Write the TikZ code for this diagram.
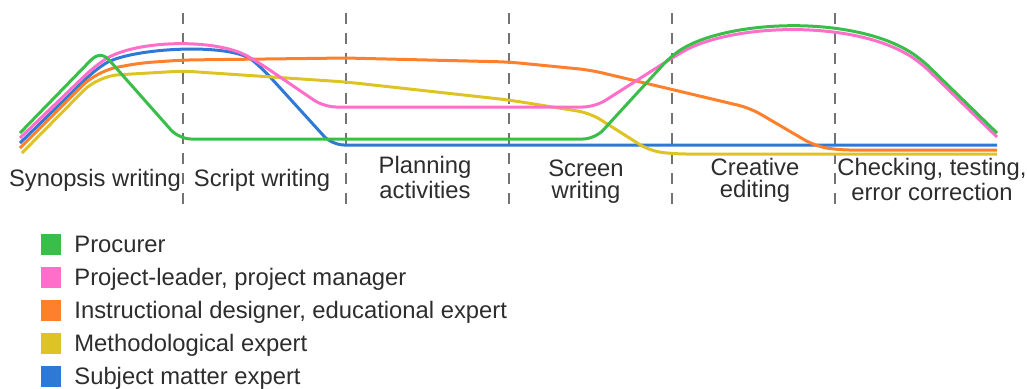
\documentclass[tikz,border=0pt]{standalone}
\usepackage{fontspec}
\setmainfont{Liberation Sans}
\definecolor{cgreen}{RGB}{58,190,74}
\definecolor{cpink}{RGB}{255,110,200}
\definecolor{corange}{RGB}{255,128,44}
\definecolor{cyellow}{RGB}{221,196,36}
\definecolor{cblue}{RGB}{46,120,214}
\definecolor{textgray}{RGB}{45,45,45}
\tikzset{
  curve/.style={line width=1.5pt, line join=round, rounded corners=6pt},
  sepline/.style={draw=black!55, line width=0.6pt, dash pattern=on 5.5pt off 4.5pt},
  lab/.style={font=\fontsize{11.9}{10.8}\selectfont, text=textgray, align=center, inner sep=0pt},
  key/.style={minimum width=10pt, minimum height=10.5pt, inner sep=0pt},
}
\begin{document}
\begin{tikzpicture}[x=0.5pt,y=-0.5pt]
\useasboundingbox (0,0) rectangle (1027,388);
% phase separators
\foreach \x/\n in {183/1,346/2,509/3,672/4,835/5}{
  \coordinate (t\n) at (\x,13);
  \coordinate (b\n) at (\x,208);
  \draw[sepline] (t\n) -- (b\n);
}
% Subject matter expert
\draw[curve, cblue] (20,143) -- (95,70) .. controls (130,48) and (230,42) .. (262,68) -- (332,145) -- (997,145);
% Methodological expert
\draw[curve, cyellow] (22,153) [rounded corners=10pt] -- (98,76) [rounded corners=6pt] -- (183,71) -- (346,82) -- (509,100) -- (590,113) -- (650,151) -- (675,154) -- (997,154);
% Instructional designer
\draw[curve, corange] (20,148) [rounded corners=10pt] -- (97,71) [rounded corners=6pt] -- (140,63) -- (183,60) -- (346,58) -- (509,62) -- (590,70) -- (750,108) -- (815,146) -- (838,150) -- (997,150);
% Project-leader
\draw[curve, cpink] (20,138) -- (95,66) .. controls (135,40) and (215,38) .. (258,62) -- (324,107) -- (595,107) -- (672,58) .. controls (730,24) and (850,19) .. (920,62) -- (997,137);
% Procurer
\draw[curve, cgreen] (20,133) [sharp corners] -- (90,61) .. controls (97,54) and (103,53) .. (110,61) [rounded corners=6pt] -- (179,139) -- (595,139) -- (672,55) .. controls (730,20) and (850,15) .. (920,58) -- (997,133);
% phase labels
\node[lab, anchor=base] (l1) at (95,186) {Synopsis writing};
\node[lab, anchor=base] (l2) at (262,186) {Script writing};
\node[lab, anchor=base] (l3) at (425,198) {Planning\\activities};
\node[lab, anchor=base] (l4) at (586,198) {Screen\\writing};
\node[lab, anchor=base] (l5) at (755,197) {Creative\\editing};
\node[lab, anchor=base] (l6) at (932,200) {Checking, testing,\\error correction};
% legend
\node[key, fill=cgreen]  (k1) at (51,244) {};
\node[key, fill=cpink]   (k2) at (51,277) {};
\node[key, fill=corange] (k3) at (51,310) {};
\node[key, fill=cyellow] (k4) at (51,343) {};
\node[key, fill=cblue]   (k5) at (51,376) {};
\node[lab, anchor=base west] (e1) at (74,252.5) {Procurer};
\node[lab, anchor=base west] (e2) at (74,285.5) {Project-leader, project manager};
\node[lab, anchor=base west] (e3) at (74,318.5) {Instructional designer, educational expert};
\node[lab, anchor=base west] (e4) at (74,351.5) {Methodological expert};
\node[lab, anchor=base west] (e5) at (74,384.5) {Subject matter expert};
\end{tikzpicture}
\end{document}
